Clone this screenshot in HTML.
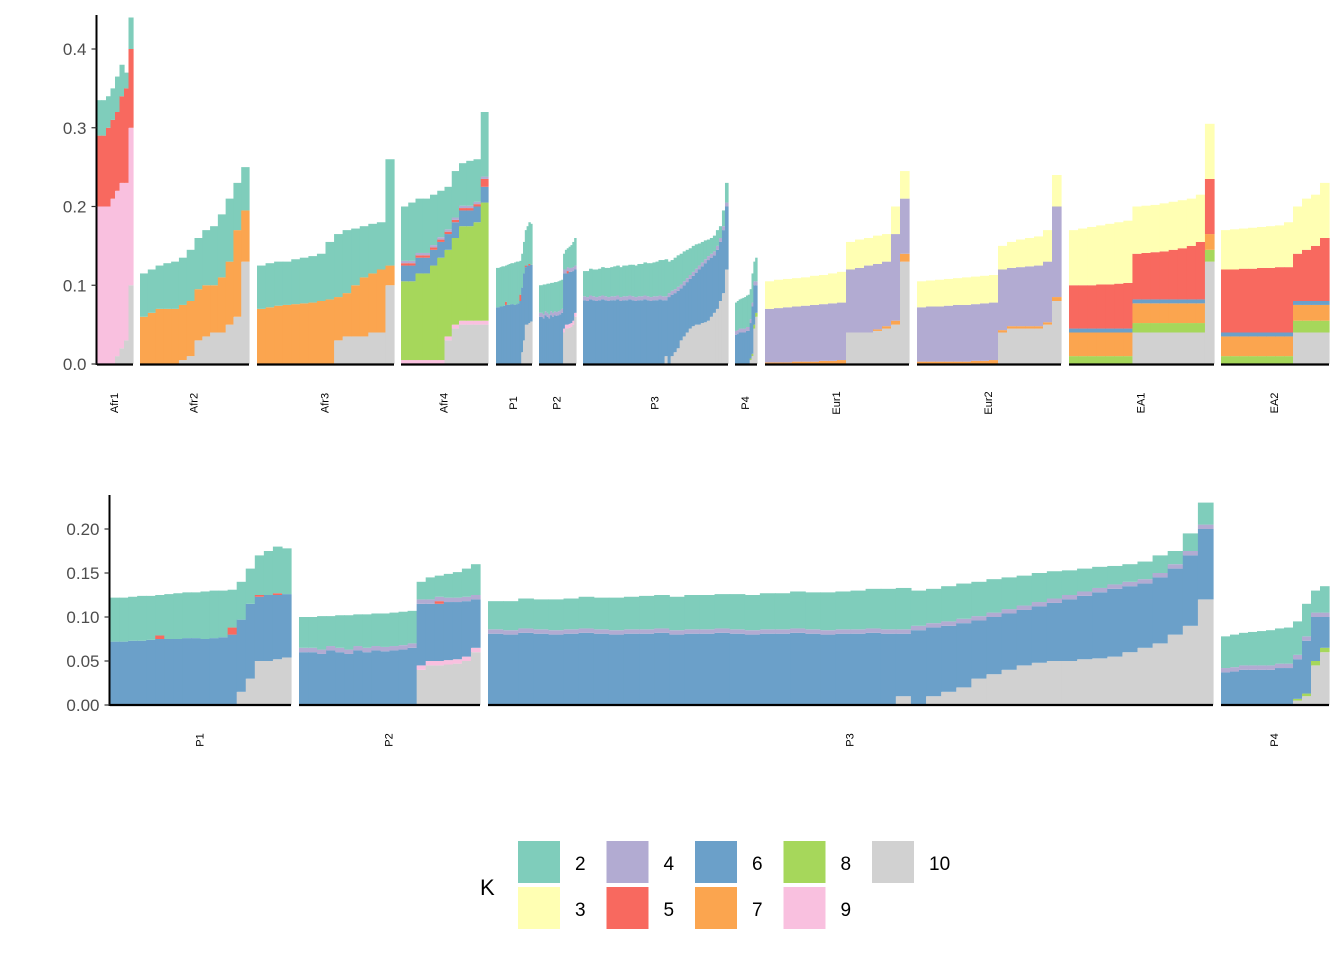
<!DOCTYPE html>
<html><head><meta charset="utf-8">
<style>
html,body{margin:0;padding:0;background:#fff;}
svg{display:block;font-family:"Liberation Sans",Arial,sans-serif;}
</style></head>
<body>
<svg id="chart" width="1344" height="960" viewBox="0 0 1344 960"></svg>
<script>
// ---- data (components per individual, K = 2..10) ----
const keys = ['k10','k9','k8','k7','k6','k5','k4','k3','k2'];
const colors = {k2:'#7FCDBB',k3:'#FFFFB3',k4:'#B2ABD2',k5:'#F8695F',k6:'#6BA0C9',k7:'#FBA54F',k8:'#A6D75B',k9:'#F9C0DF',k10:'#D1D1D1'};
const legendLabels = ['2','3','4','5','6','7','8','9','10'];
const yTopTicks = ['0.0','0.1','0.2','0.3','0.4'];
const yTopTickVals = [0,0.1,0.2,0.3,0.4];
const yBotTicks = ['0.00','0.05','0.10','0.15','0.20'];
const yBotTickVals = [0,0.05,0.1,0.15,0.2];

const afr1 = {
 k10:[0,0,0,0,0.01,0.02,0.03,0.1],
 k9:[0.2,0.2,0.2,0.21,0.21,0.21,0.2,0.2],
 k5:[0.09,0.09,0.1,0.1,0.1,0.11,0.12,0.1],
 k2:[0.045,0.045,0.04,0.04,0.045,0.04,0.02,0.04]};
const afr2 = {
 k10:[0,0,0,0,0,0.005,0.01,0.03,0.035,0.04,0.04,0.05,0.06,0.13],
 k7:[0.06,0.065,0.07,0.07,0.07,0.07,0.07,0.065,0.065,0.06,0.07,0.08,0.11,0.065],
 k2:[0.055,0.055,0.055,0.058,0.06,0.06,0.065,0.065,0.07,0.075,0.08,0.08,0.06,0.055]};
const afr3 = {
 k10:[0,0,0,0,0,0,0,0,0,0.03,0.035,0.035,0.035,0.04,0.04,0.1],
 k7:[0.07,0.072,0.074,0.075,0.076,0.077,0.078,0.08,0.082,0.055,0.055,0.065,0.075,0.075,0.08,0.025],
 k2:[0.055,0.056,0.056,0.055,0.057,0.058,0.059,0.06,0.073,0.08,0.08,0.072,0.065,0.063,0.06,0.135]};
const afr4 = {
 k10:[0,0,0,0,0,0,0.03,0.045,0.05,0.05,0.05,0.05],
 k9:[0.005,0.005,0.005,0.005,0.005,0.005,0.005,0.005,0.005,0.005,0.005,0.005],
 k8:[0.1,0.1,0.11,0.11,0.12,0.13,0.11,0.11,0.12,0.12,0.125,0.15],
 k6:[0.02,0.02,0.02,0.02,0.02,0.02,0.02,0.02,0.02,0.02,0.02,0.02],
 k5:[0.003,0.003,0.003,0.003,0.003,0.003,0.003,0.003,0.003,0.003,0.003,0.01],
 k4:[0.003,0.003,0.003,0.003,0.003,0.003,0.003,0.003,0.003,0.003,0.003,0.003],
 k2:[0.069,0.074,0.069,0.069,0.064,0.059,0.054,0.059,0.054,0.057,0.054,0.082]};
const p1 = {
 k10:[0,0,0,0,0,0,0,0,0,0,0,0,0,0,0.015,0.03,0.05,0.05,0.052,0.054],
 k6:[0.072,0.072,0.073,0.073,0.074,0.075,0.075,0.075,0.076,0.076,0.075,0.076,0.077,0.08,0.082,0.085,0.073,0.075,0.073,0.072],
 k5:[0,0,0,0,0,0.004,0,0,0,0,0,0,0,0.008,0,0,0.002,0,0.002,0],
 k2:[0.05,0.05,0.05,0.051,0.05,0.046,0.051,0.052,0.052,0.052,0.054,0.054,0.053,0.043,0.043,0.04,0.045,0.05,0.053,0.052]};
const p2 = {
 k10:[0,0,0,0,0,0,0,0,0,0,0,0,0,0.04,0.045,0.045,0.046,0.047,0.05,0.06],
 k9:[0,0,0,0,0,0,0,0,0,0,0,0,0,0.005,0.005,0.005,0.005,0.005,0.005,0.005],
 k6:[0.06,0.06,0.058,0.062,0.06,0.058,0.062,0.06,0.062,0.061,0.062,0.063,0.065,0.07,0.065,0.065,0.066,0.065,0.063,0.055],
 k5:[0,0,0,0,0,0,0,0,0,0,0,0,0,0,0,0.003,0,0,0,0],
 k4:[0.005,0.005,0.005,0.005,0.005,0.005,0.005,0.005,0.005,0.005,0.005,0.005,0.005,0.005,0.005,0.005,0.005,0.005,0.005,0.005],
 k2:[0.035,0.035,0.038,0.034,0.037,0.039,0.036,0.038,0.037,0.038,0.038,0.038,0.037,0.02,0.025,0.024,0.027,0.029,0.032,0.035]};
const p3 = {
 k10:[0,0,0,0,0,0,0,0,0,0,0,0,0,0,0,0,0,0,0,0,0,0,0,0,0,0,0,0.01,0,0.01,0.015,0.02,0.03,0.035,0.04,0.045,0.048,0.05,0.05,0.052,0.053,0.055,0.06,0.065,0.07,0.08,0.09,0.12],
 k6:[0.081,0.08,0.082,0.081,0.08,0.081,0.082,0.081,0.08,0.081,0.081,0.082,0.08,0.081,0.081,0.082,0.081,0.08,0.081,0.081,0.082,0.081,0.08,0.081,0.081,0.082,0.081,0.071,0.085,0.078,0.075,0.073,0.066,0.065,0.064,0.063,0.064,0.066,0.07,0.072,0.075,0.077,0.075,0.073,0.075,0.075,0.08,0.08],
 k4:[0.005,0.005,0.005,0.005,0.005,0.005,0.005,0.005,0.005,0.005,0.005,0.005,0.005,0.005,0.005,0.005,0.005,0.005,0.005,0.005,0.005,0.005,0.005,0.005,0.005,0.005,0.005,0.005,0.005,0.005,0.005,0.005,0.005,0.005,0.005,0.005,0.005,0.005,0.005,0.005,0.005,0.005,0.005,0.005,0.005,0.005,0.005,0.005],
 k2:[0.032,0.033,0.034,0.034,0.035,0.035,0.036,0.036,0.037,0.037,0.038,0.038,0.038,0.039,0.039,0.039,0.04,0.04,0.041,0.041,0.042,0.042,0.043,0.043,0.044,0.045,0.046,0.047,0.04,0.039,0.04,0.04,0.039,0.038,0.036,0.034,0.033,0.031,0.028,0.026,0.024,0.021,0.02,0.02,0.02,0.015,0.02,0.025]};
const p4 = {
 k10:[0,0,0,0,0,0,0,0,0.005,0.01,0.045,0.06],
 k8:[0,0,0,0,0,0,0,0,0.002,0.003,0.005,0.005],
 k6:[0.037,0.038,0.04,0.04,0.04,0.04,0.042,0.042,0.045,0.06,0.05,0.035],
 k4:[0.005,0.005,0.005,0.005,0.005,0.005,0.005,0.005,0.005,0.005,0.005,0.005],
 k2:[0.036,0.037,0.037,0.038,0.039,0.04,0.04,0.041,0.038,0.037,0.025,0.03]};
const eur1 = {
 k10:[0,0,0,0,0,0,0,0,0,0.04,0.04,0.04,0.042,0.045,0.05,0.13],
 k7:[0.002,0.002,0.002,0.003,0.003,0.003,0.004,0.004,0.005,0,0,0,0.002,0.003,0.005,0.01],
 k4:[0.068,0.069,0.07,0.07,0.071,0.072,0.072,0.073,0.073,0.08,0.082,0.085,0.083,0.082,0.11,0.07],
 k3:[0.035,0.036,0.036,0.036,0.036,0.037,0.037,0.038,0.039,0.035,0.036,0.035,0.036,0.035,0.035,0.035]};
const eur2 = {
 k10:[0,0,0,0,0,0,0,0,0,0.04,0.045,0.045,0.045,0.045,0.05,0.08],
 k7:[0.003,0.003,0.003,0.003,0.003,0.003,0.004,0.004,0.005,0.003,0.003,0.003,0.003,0.003,0.003,0.005],
 k4:[0.069,0.07,0.07,0.071,0.072,0.072,0.072,0.073,0.073,0.077,0.074,0.075,0.076,0.077,0.077,0.115],
 k3:[0.033,0.033,0.034,0.034,0.034,0.035,0.035,0.035,0.035,0.03,0.033,0.035,0.036,0.037,0.04,0.04]};
const ea1 = {
 k10:[0,0,0,0,0,0,0,0.04,0.04,0.04,0.04,0.04,0.04,0.04,0.04,0.13],
 k8:[0.01,0.01,0.01,0.01,0.01,0.01,0.01,0.012,0.012,0.012,0.012,0.012,0.012,0.012,0.012,0.015],
 k7:[0.03,0.03,0.03,0.03,0.03,0.03,0.03,0.025,0.025,0.025,0.025,0.025,0.025,0.025,0.025,0.02],
 k6:[0.005,0.005,0.005,0.005,0.005,0.005,0.005,0.005,0.005,0.005,0.005,0.005,0.005,0.005,0.005,0],
 k5:[0.055,0.055,0.055,0.056,0.056,0.057,0.058,0.058,0.059,0.06,0.061,0.063,0.065,0.068,0.073,0.07],
 k3:[0.07,0.072,0.074,0.075,0.077,0.078,0.079,0.06,0.06,0.06,0.061,0.061,0.061,0.06,0.06,0.07]};
const ea2 = {
 k10:[0,0,0,0,0,0,0,0,0.04,0.04,0.04,0.04],
 k8:[0.01,0.01,0.01,0.01,0.01,0.01,0.01,0.01,0.015,0.015,0.015,0.015],
 k7:[0.025,0.025,0.025,0.025,0.025,0.025,0.025,0.025,0.02,0.02,0.02,0.02],
 k6:[0.005,0.005,0.005,0.005,0.005,0.005,0.005,0.005,0.005,0.005,0.005,0.005],
 k5:[0.08,0.08,0.081,0.081,0.082,0.082,0.083,0.083,0.06,0.065,0.07,0.08],
 k3:[0.05,0.051,0.051,0.052,0.052,0.053,0.053,0.057,0.06,0.065,0.065,0.07]};

// ---- layout ----
const topPanels = [
 ['Afr1',97,133,afr1],['Afr2',140,249,afr2],['Afr3',257,394,afr3],['Afr4',401,488,afr4],
 ['P1',496,532,p1],['P2',539,576,p2],['P3',583,728,p3],['P4',735,757,p4],
 ['Eur1',765,909,eur1],['Eur2',917,1061,eur2],['EA1',1069,1214,ea1],['EA2',1221,1329,ea2]];
const botPanels = [['P1',110,291,p1],['P2',299,480,p2],['P3',488,1213,p3],['P4',1221,1329,p4]];
const yTop = v => 364 - v*787.5;
const yBot = v => 705 - v*880;

const NS='http://www.w3.org/2000/svg';
const svg=document.getElementById('chart');
function mk(tag,attrs,parent){const e=document.createElementNS(NS,tag);for(const k in attrs)e.setAttribute(k,attrs[k]);(parent||svg).appendChild(e);return e;}

function drawPanels(panels,yf,axisY,labelY,prefix){
  panels.forEach(([name,x0,x1,d])=>{
    const g=mk('g',{});
    
    
    const n=(d.k2||d.k3).length;
    const w=(x1-x0)/n;
    for(let i=0;i<n;i++){
      let cum=0;
      keys.forEach(k=>{
        const v=d[k]?d[k][i]:0;
        if(!v)return;
        const yA=yf(cum), yB=yf(cum+v);
        const r=mk('rect',{x:x0+i*w,y:yB,width:w+0.6,height:yA-yB,fill:colors[k]},g);
        
        
        cum+=v;
      });
    }
    const ax=mk('line',{x1:x0,x2:x1,y1:axisY,y2:axisY,stroke:'#000','stroke-width':2.2},g);
    
    
    const cx=(x0+x1)/2;
    const t=mk('text',{x:0,y:0,transform:`translate(${cx+3},${labelY}) rotate(-90)`,'text-anchor':'middle','font-size':11,fill:'#000'},g);
    t.textContent=name;
    
    
  });
}
drawPanels(topPanels,yTop,364.5,403,'top');
drawPanels(botPanels,yBot,705,740,'bottom');

function drawYAxis(x,yf,vals,labels,yMin,yMax,nm){
  const g=mk('g',{});
  
  
  mk('line',{x1:x,x2:x,y1:yMin,y2:yMax,stroke:'#000','stroke-width':2},g);
  vals.forEach((v,i)=>{
    const y=yf(v);
    mk('line',{x1:x-5,x2:x,y1:y,y2:y,stroke:'#333','stroke-width':1.2},g);
    const t=mk('text',{x:x-10,y:y+6,'text-anchor':'end','font-size':17,fill:'#4d4d4d'},g);
    t.textContent=labels[i];
    
    
  });
}
drawYAxis(96.5,yTop,yTopTickVals,yTopTicks,15,365,'top-y-axis');
drawYAxis(109.5,yBot,yBotTickVals,yBotTicks,495,706,'bottom-y-axis');

// legend
const lg=mk('g',{});


const lt=mk('text',{x:480,y:895,'font-size':22,fill:'#000'},lg);
lt.textContent='K';


legendLabels.forEach((lab,i)=>{
  const col=Math.floor(i/2), row=i%2;
  const x=518+col*88.5, y=841+row*46;
  const e=mk('g',{},lg);
  
  
  mk('rect',{x:x,y:y,width:42,height:42,fill:colors['k'+lab]},e);
  const t=mk('text',{x:x+57,y:y+29,'font-size':19,fill:'#000'},e);
  t.textContent=lab;
});
</script>
</body></html>
